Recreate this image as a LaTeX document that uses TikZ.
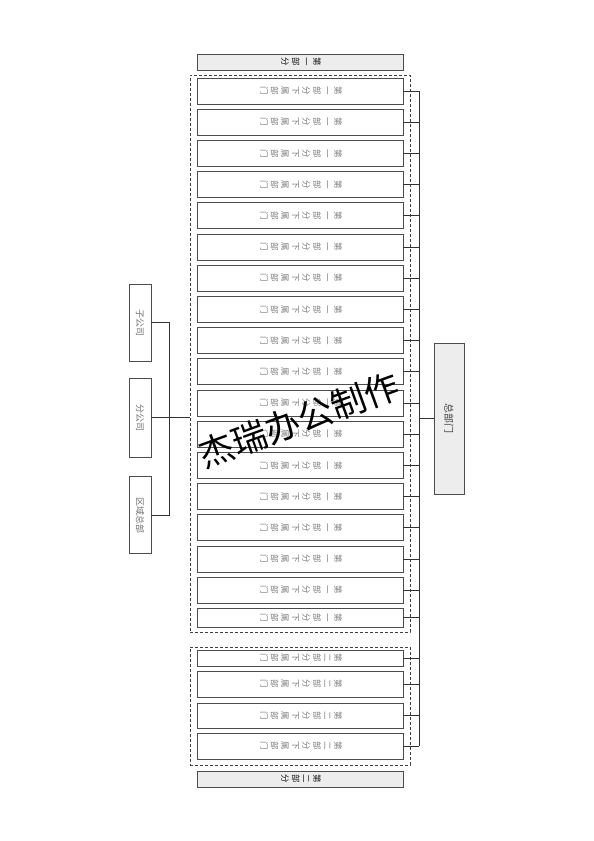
\documentclass[tikz,border=0pt]{standalone}
\usepackage{fontspec}
\usepackage{graphicx}
\newfontfamily\cjk{Noto Sans CJK SC}
% vertical column of characters, turned a quarter clockwise
\newcommand{\vtxt}[1]{\rotatebox{-90}{\begin{tabular}{@{}c@{}}#1\end{tabular}}}
\newcommand{\htxt}[1]{\rotatebox{-90}{#1}}

\tikzset{
  dept/.style={draw=black!70, fill=white, line width=0.8pt, minimum width=206pt,
    inner sep=0pt, text=black!50, font=\cjk\fontsize{8.5}{10.6}\selectfont},
  part/.style={draw=black!70, fill=black!7, line width=0.8pt, minimum width=206pt,
    minimum height=16pt, inner sep=0pt, text=black!90, font=\cjk\fontsize{8.5}{10.6}\selectfont},
  unit/.style={draw=black!70, fill=white, line width=0.8pt, minimum width=22pt,
    inner sep=0pt, text=black!55, font=\cjk\fontsize{9}{10}\selectfont},
  group/.style={draw=black!75, line width=0.8pt, dash pattern=on 3pt off 2pt, inner sep=0pt},
  link/.style={draw=black!80, line width=0.8pt}
}

\begin{document}
\begin{tikzpicture}[x=1pt,y=-1pt]
\useasboundingbox[fill=white] (0,0) rectangle (594,841);

% dashed groups
\node[group, minimum width=220pt, minimum height=557pt] (g1) at (300,353.5) {};
\node[group, minimum width=220pt, minimum height=118pt] (g2) at (300,706) {};

% part headers
\node[part] (part1) at (300,62) {\vtxt{第\\一\\部\\分}};
\node[part] (part2) at (300,779) {\vtxt{第\\二\\部\\分}};

% first part
\foreach \i in {1,...,17} {
\node[dept, minimum height=26pt] (a\i) at (300,{91+31.2*(\i-1)}) {\vtxt{第\\一\\部\\分\\下\\属\\部\\门}};
}
\node[dept, minimum height=19pt] (a18) at (300,617.5) {\vtxt{第\\一\\部\\分\\下\\属\\部\\门}};

% second part
\node[dept, minimum height=16pt] (b1) at (300,658) {\vtxt{第\\二\\部\\分\\下\\属\\部\\门}};
\node[dept, minimum height=26pt] (b2) at (300,684) {\vtxt{第\\二\\部\\分\\下\\属\\部\\门}};
\node[dept, minimum height=25pt] (b3) at (300,715.5) {\vtxt{第\\二\\部\\分\\下\\属\\部\\门}};
\node[dept, minimum height=26pt] (b4) at (300,746) {\vtxt{第\\二\\部\\分\\下\\属\\部\\门}};

% head office
\node[part, minimum width=30pt, minimum height=151pt, text=black!75,
  font=\cjk\fontsize{10}{11}\selectfont] (hq) at (449,418.5) {\htxt{总部门}};

% units on the left
\node[unit, minimum height=77pt] (u1) at (140,322.5) {\htxt{子公司}};
\node[unit, minimum height=79pt] (u2) at (140,417.5) {\htxt{分公司}};
\node[unit, minimum height=77pt] (u3) at (140,515) {\htxt{区域总部}};

% connectors
\coordinate (bus) at (419,0);
\coordinate (spine) at (169,0);
\draw[link] (a1.east -| bus) -- (b4.east -| bus);
\foreach \i in {1,...,18} {
\draw[link] (a\i.east) -- (a\i.east -| bus);
}
\foreach \i in {1,...,4} {
\draw[link] (b\i.east) -- (b\i.east -| bus);
}
\draw[link] (hq.west) -- (hq.west -| bus);
\draw[link] (u1.east) -- (u1.east -| spine) -- (u3.east -| spine) -- (u3.east);
\draw[link] (u2.east) -- (g1.west |- u2.east);

% watermark
\node[font=\cjk\fontsize{35}{35}\selectfont, rotate=20] (mark) at (299,420) {杰瑞办公制作};
\end{tikzpicture}
\end{document}
